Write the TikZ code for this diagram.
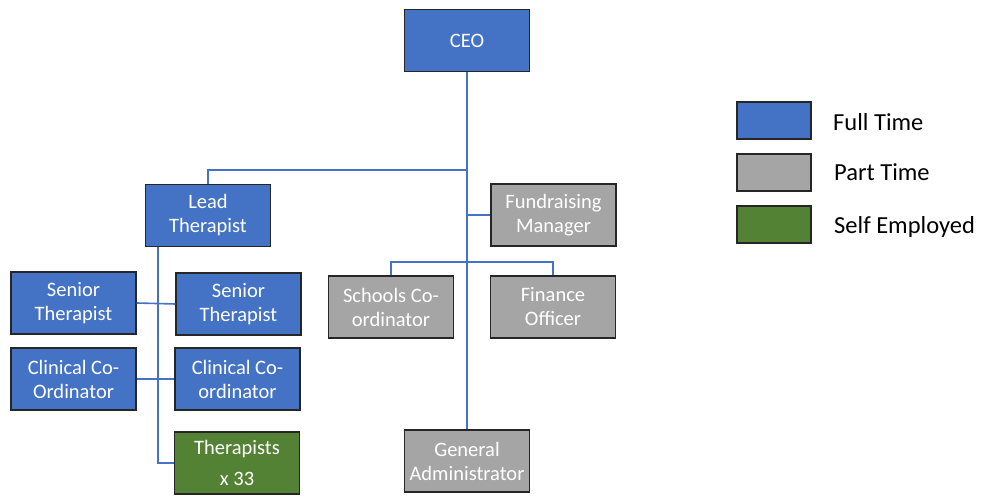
\documentclass[tikz,border=0pt]{standalone}
\usepackage{fontspec}
\setmainfont{Carlito}
\usetikzlibrary{positioning}
\definecolor{ftblue}{HTML}{4472C4}
\definecolor{ptgrey}{HTML}{A5A5A5}
\definecolor{segreen}{HTML}{548235}
\begin{document}
\begin{tikzpicture}[x=1pt,y=-1pt,
  box/.style={draw=black!85, line width=1.3pt, align=center, inner sep=2pt,
    minimum width=125pt, minimum height=62pt, text=white, font=\fontsize{20.5}{24}\selectfont},
  full/.style={box, fill=ftblue},
  part/.style={box, fill=ptgrey},
  self/.style={box, fill=segreen},
  key/.style={draw=black!85, line width=1.3pt, minimum width=74pt, minimum height=37pt, inner sep=0pt},
  keytext/.style={anchor=west, inner sep=0pt, font=\fontsize{24.5}{28}\selectfont},
  link/.style={draw=ftblue, line width=1.6pt}]
\useasboundingbox (0,0) rectangle (985,502);
% top level
\node[full] (ceo) at (467,40.5) {CEO};
\node[full] (lead) at (208,215.5) {Lead\\Therapist};
\node[part] (fund) at (553.5,215) {Fundraising\\Manager};
\node[part] (school) at (391,307) {Schools Co-\\ordinator};
\node[part] (fin) at (553,307) {Finance\\Officer};
\node[part] (admin) at (467,461) {General\\Administrator};
% therapy team
\node[full] (sen1) at (73.5,303) {Senior\\Therapist};
\node[full] (sen2) at (238.5,304) {Senior\\Therapist};
\node[full] (clin1) at (73.5,379) {Clinical Co-\\Ordinator};
\node[full] (clin2) at (237.5,379) {Clinical Co-\\ordinator};
\node[self, font=\fontsize{20.5}{31}\selectfont] (ther) at (237,463) {Therapists\\x 33};
% legend
\node[key, fill=ftblue] (kfull) at (774,120.5) {};
\node[key, fill=ptgrey] (kpart) at (774,172.5) {};
\node[key, fill=segreen] (kself) at (774,224.5) {};
\node[keytext] (tfull) at (833,122) {Full Time};
\node[keytext] (tpart) at (834,172) {Part Time};
\node[keytext] (tself) at (834,227) {Self Employed};
% lines
\coordinate (j1) at (467,170);
\coordinate (j2) at (467,262);
\coordinate (lt) at (158,465);
\draw[link] (ceo) -- (admin);
\draw[link] (lead.north) |- (j1);
\draw[link] (fund.west) -- (fund.west -| ceo.south);
\draw[link] (school.north) |- (j2) -| (fin.north);
\draw[link] (lead.south -| lt) |- (ther.west);
\draw[link] (sen1.east) -- (sen2.west);
\draw[link] (clin1.east) -- (clin2.west);
\end{tikzpicture}
\end{document}
